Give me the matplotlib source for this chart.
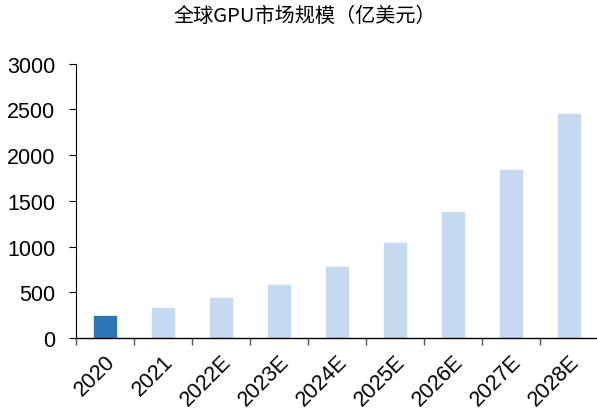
import matplotlib
matplotlib.use("Agg")
import matplotlib.pyplot as plt
import numpy as np

categories = ["2020", "2021", "2022E", "2023E", "2024E", "2025E", "2026E", "2027E", "2028E"]
values = [252, 339, 449, 591, 791, 1047, 1393, 1852, 2462]
colors = ["#2E75B6"] + ["#C5D9F1"] * 8
yticks = [0, 500, 1000, 1500, 2000, 2500, 3000]
title = "全球GPU市场规模（亿美元）"

plt.rcParams['font.family'] = ['Liberation Sans', 'Noto Sans CJK SC', 'DejaVu Sans']

fig = plt.figure(figsize=(5.97, 4.10), dpi=100)
ax = fig.add_axes([76/597, (410-339)/410, (598-76)/597, (339-64.7)/410])
x = np.arange(len(categories))
ax.bar(x, values, width=0.41, color=colors, edgecolor="white", linewidth=0.5, zorder=2)
ax.set_xlim(-0.5, len(categories) - 0.5)
ax.set_ylim(0, 3000)
ax.set_yticks(yticks)
ax.set_yticklabels([str(v) for v in yticks], fontsize=15.5)
ax.set_xticks(x)
ax.set_xticklabels(categories, fontsize=15.5, rotation=45, ha='right', rotation_mode='anchor')
ax.set_xticks(np.arange(len(categories) + 1) - 0.5, minor=True)
ax.tick_params(axis='x', which='major', length=0, pad=9)
ax.tick_params(axis='x', which='minor', length=5, color='#555555', width=1)
ax.tick_params(axis='y', length=5, width=0.8, pad=10)
for s in ['top', 'right']:
    ax.spines[s].set_visible(False)
ax.spines['left'].set_linewidth(0.8)
ax.spines['bottom'].set_linewidth(1.0)
fig.text(305/597, 1 - 16/410, title, ha='center', va='center', fontsize=14.5,
         family=['Noto Sans CJK SC', 'Liberation Sans'])
fig.savefig("out.png", dpi=100)
